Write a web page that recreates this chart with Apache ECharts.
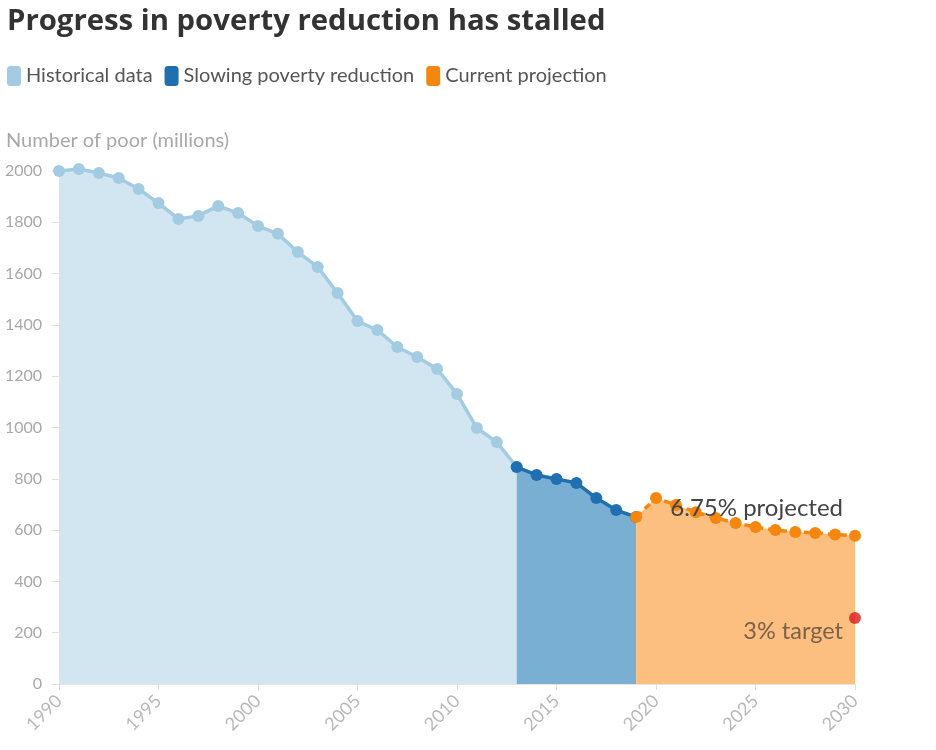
<!DOCTYPE html>
<html>
<head>
<meta charset="utf-8">
<script src="https://cdn.jsdelivr.net/npm/echarts@6/dist/echarts.min.js"></script>
<style>
html,body{margin:0;padding:0;background:#fff;}
#chart{width:936px;height:750px;}
</style>
</head>
<body>
<div id="chart"></div>
<script>
// ---- Data ----
const histYears = [1990,1991,1992,1993,1994,1995,1996,1997,1998,1999,2000,2001,2002,2003,2004,2005,2006,2007,2008,2009,2010,2011,2012,2013];
const histValues = [2000,2008,1992,1973,1930,1875,1813,1825,1864,1836,1786,1755,1684,1626,1524,1415,1380,1314,1275,1228,1131,998,943,846];
const slowYears = [2013,2014,2015,2016,2017,2018,2019];
const slowValues = [846,815,799,784,725,678,651];
const projYears = [2019,2020,2021,2022,2023,2024,2025,2026,2027,2028,2029,2030];
const projValues = [651,725,698,670,647,628,612,600,593,589,583,578];
const targetYear = 2030;
const targetValue = 257;
const seriesNames = ['Historical data','Slowing poverty reduction','Current projection'];
const projLabel = '6.75% projected';
const targetLabel = '3% target';
const titleText = 'Progress in poverty reduction has stalled';
const yAxisName = 'Number of poor (millions)';

const FONT = "'Source Sans Pro', Lato, sans-serif";

function pairs(xs, ys){ return xs.map((x,i)=>[x, ys[i]]); }

const projData = pairs(projYears, projValues).map((p,i,arr)=> i===arr.length-1 ? {
  value: p,
  label: {show:true, formatter: projLabel, position:'left', distance:6, offset:[0,-27],
    fontSize:24, color:'#444', fontFamily:FONT}
} : p);

const chart = echarts.init(document.getElementById('chart'), null, {renderer:'canvas'});
chart.setOption({
  animation:false,
  backgroundColor:'#fff',
  textStyle:{fontFamily:FONT},
  title:{
    text:titleText, left:2, top:2,
    textStyle:{fontSize:29.3, fontWeight:'bold', color:'#333', fontFamily:"'Open Sans', sans-serif"}
  },
  legend:{
    data:seriesNames, left:7, top:66, padding:0, icon:'roundRect',
    itemWidth:14, itemHeight:20, itemGap:12,
    textStyle:{fontSize:20, color:'#555', fontFamily:FONT}
  },
  grid:{left:59, right:81, top:171, bottom:66, containLabel:false},
  xAxis:{
    type:'value', min:1990, max:2030, interval:5,
    splitLine:{show:false},
    axisLine:{show:true, lineStyle:{color:'#e6e6e6'}},
    axisTick:{show:true, length:6, lineStyle:{color:'#dcdcdc'}},
    axisLabel:{rotate:45, color:'#b8b8b8', fontSize:18, margin:14, formatter:v=>String(v), fontFamily:FONT}
  },
  yAxis:{
    type:'value', min:0, max:2000, interval:200,
    name:yAxisName, nameLocation:'end', nameGap:20,
    nameTextStyle:{align:'left', padding:[0,0,0,-53], fontSize:20, color:'#a8a8a8', fontFamily:FONT},
    splitLine:{show:false},
    axisLine:{show:false},
    axisTick:{show:true, length:7, lineStyle:{color:'#dddddd'}},
    axisLabel:{color:'#a8a8a8', fontSize:16, margin:17, formatter:v=>String(v), fontFamily:FONT}
  },
  series:[
    {
      name:seriesNames[0], type:'line', data:pairs(histYears, histValues), clip:false,
      symbol:'circle', symbolSize:12,
      itemStyle:{color:'#a3cce3'},
      lineStyle:{color:'#a3cce3', width:3.5},
      areaStyle:{color:'#d2e6f1', opacity:1, origin:'start'},
      z:2
    },
    {
      name:seriesNames[1], type:'line', data:pairs(slowYears, slowValues), clip:false,
      symbol:'circle', symbolSize:12,
      itemStyle:{color:'#1f6fb1'},
      lineStyle:{color:'#1f6fb1', width:3.5},
      areaStyle:{color:'#7aafd4', opacity:1, origin:'start'},
      z:3
    },
    {
      name:seriesNames[2], type:'line', data:projData, clip:false,
      symbol:'circle', symbolSize:12,
      itemStyle:{color:'#f5870f'},
      lineStyle:{color:'#f5870f', width:3.5, type:[7,5]},
      areaStyle:{color:'#fdbf80', opacity:1, origin:'start'},
      z:4
    },
    {
      name:'target', type:'scatter', data:[{
        value:[targetYear, targetValue],
        label:{show:true, formatter:targetLabel, position:'left', distance:6, offset:[0,13],
          fontSize:23.5, color:'#5a4a3c', fontFamily:FONT}
      }],
      symbol:'circle', symbolSize:12, itemStyle:{color:'#d7191c'}, z:5, clip:false
    }
  ]
});
</script>
</body>
</html>
